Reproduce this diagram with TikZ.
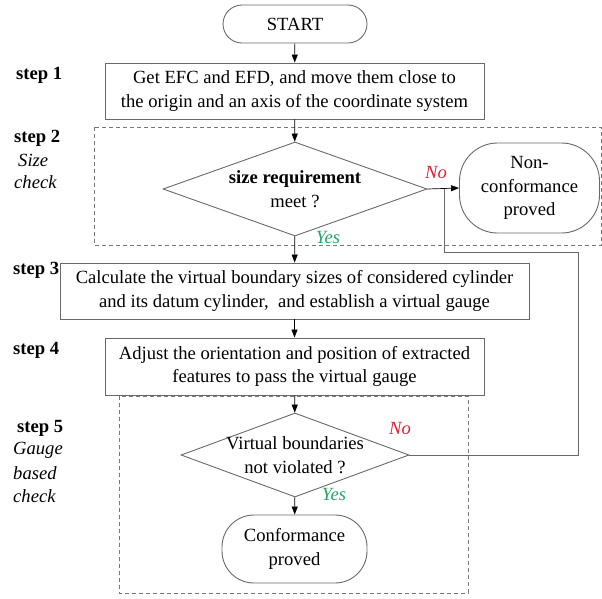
\documentclass[tikz,border=0pt]{standalone}
\usepackage{fontspec}
\setmainfont{Liberation Serif}
\usetikzlibrary{arrows.meta,shapes.geometric}
\definecolor{nored}{RGB}{222,32,52}
\definecolor{yesgreen}{RGB}{36,165,105}
\definecolor{bordergray}{RGB}{105,105,105}
\definecolor{dashgray}{RGB}{120,120,120}
\tikzset{
  txt/.style={font=\fontsize{18.6}{23.5}\selectfont},
  procbox/.style={txt,draw=bordergray,line width=0.9pt,rectangle,inner sep=0pt,align=center},
  pill/.style={txt,draw=bordergray,line width=0.9pt,rectangle,inner sep=0pt,align=center},
  decision/.style={txt,draw=bordergray,line width=0.9pt,diamond,inner ysep=0pt,inner xsep=-15pt,align=center},
  conn/.style={black,line width=0.7pt,-{Triangle[length=8pt,width=6pt]}},
  fback/.style={bordergray,line width=0.9pt},
  dashbox/.style={dashgray,line width=0.8pt,dash pattern=on 4pt off 3pt},
  steplabel/.style={txt,font=\fontsize{18.6}{23.5}\selectfont\bfseries,anchor=west,inner sep=0pt},
  itlabel/.style={txt,font=\fontsize{18.6}{23.5}\selectfont\itshape,anchor=west,inner sep=0pt},
  nolab/.style={txt,font=\fontsize{18.6}{23.5}\selectfont\itshape,text=nored,inner sep=0pt},
  yeslab/.style={txt,font=\fontsize{18.6}{23.5}\selectfont\itshape,text=yesgreen,inner sep=0pt}
}
\begin{document}
\begin{tikzpicture}[x=1pt,y=-1pt]
\useasboundingbox (0,0) rectangle (602,598);

% dashed groups
\draw[dashbox] (94,127) rectangle (601.5,245);
\draw[dashbox] (119,396) rectangle (468,593);

% nodes
\node[pill,rounded corners=19pt,minimum width=144pt,minimum height=38pt] (start) at (295,24) {START};
\node[procbox,minimum width=379pt,minimum height=56pt] (s1) at (294.5,91) {Get EFC and EFD, and move them close to\\the origin and an axis of the coordinate system};
\node[decision,aspect=2.8,minimum width=264pt,minimum height=94pt] (d1) at (295,189) {\textbf{size requirement}\\meet ?};
\node[pill,rounded corners=38pt,minimum width=140pt,minimum height=90pt] (nc) at (529.5,188) {Non-\\conformance\\proved};
\node[procbox,minimum width=469pt,minimum height=56pt] (s3) at (294.5,291) {Calculate the virtual boundary sizes of considered cylinder\\and its datum cylinder,\ \ and establish a virtual gauge};
\node[procbox,minimum width=379pt,minimum height=57pt] (s4) at (294.5,366.5) {Adjust the orientation and position of extracted\\features to pass the virtual gauge};
\node[decision,aspect=2.71,minimum width=228pt,minimum height=84pt] (d2) at (295,455) {Virtual boundaries\\not violated ?};
\node[pill,rounded corners=32pt,minimum width=145pt,minimum height=68pt] (cp) at (294.5,549) {Conformance\\proved};

% labels
\node[steplabel] (l1) at (16,75) {step 1};
\node[steplabel] (l2) at (14,138) {step 2};
\node[itlabel] (l2a) at (18,160) {Size};
\node[itlabel] (l2b) at (14,182) {check};
\node[steplabel] (l3) at (13,270) {step 3};
\node[steplabel] (l4) at (13,350) {step 4};
\node[steplabel] (l5) at (17,428) {step 5};
\node[itlabel] (l5a) at (13,450) {Gauge};
\node[itlabel] (l5b) at (13,473) {based};
\node[itlabel] (l5c) at (13,496) {check};

\node[nolab] (no1) at (436,172) {No};
\node[yeslab] (yes1) at (328,237) {Yes};
\node[nolab] (no2) at (400,428) {No};
\node[yeslab] (yes2) at (334,494) {Yes};

% connectors
\draw[conn] (start) -- (s1);
\draw[conn] (s1) -- (d1);
\draw[conn] (d1) -- (s3);
\draw[conn] (s3) -- (s4);
\draw[conn] (s4) -- (d2);
\draw[conn] (d2) -- (cp);
\draw[conn] (d1.east) -- (nc.west);

% feedback loop
\coordinate (f1) at (578,455);
\coordinate (f2) at (578,252);
\coordinate (f3) at (444,252);
\coordinate (f4) at (444,189);
\draw[fback] (d2.east) -- (f1) -- (f2) -- (f3) -- (f4);
\end{tikzpicture}
\end{document}
